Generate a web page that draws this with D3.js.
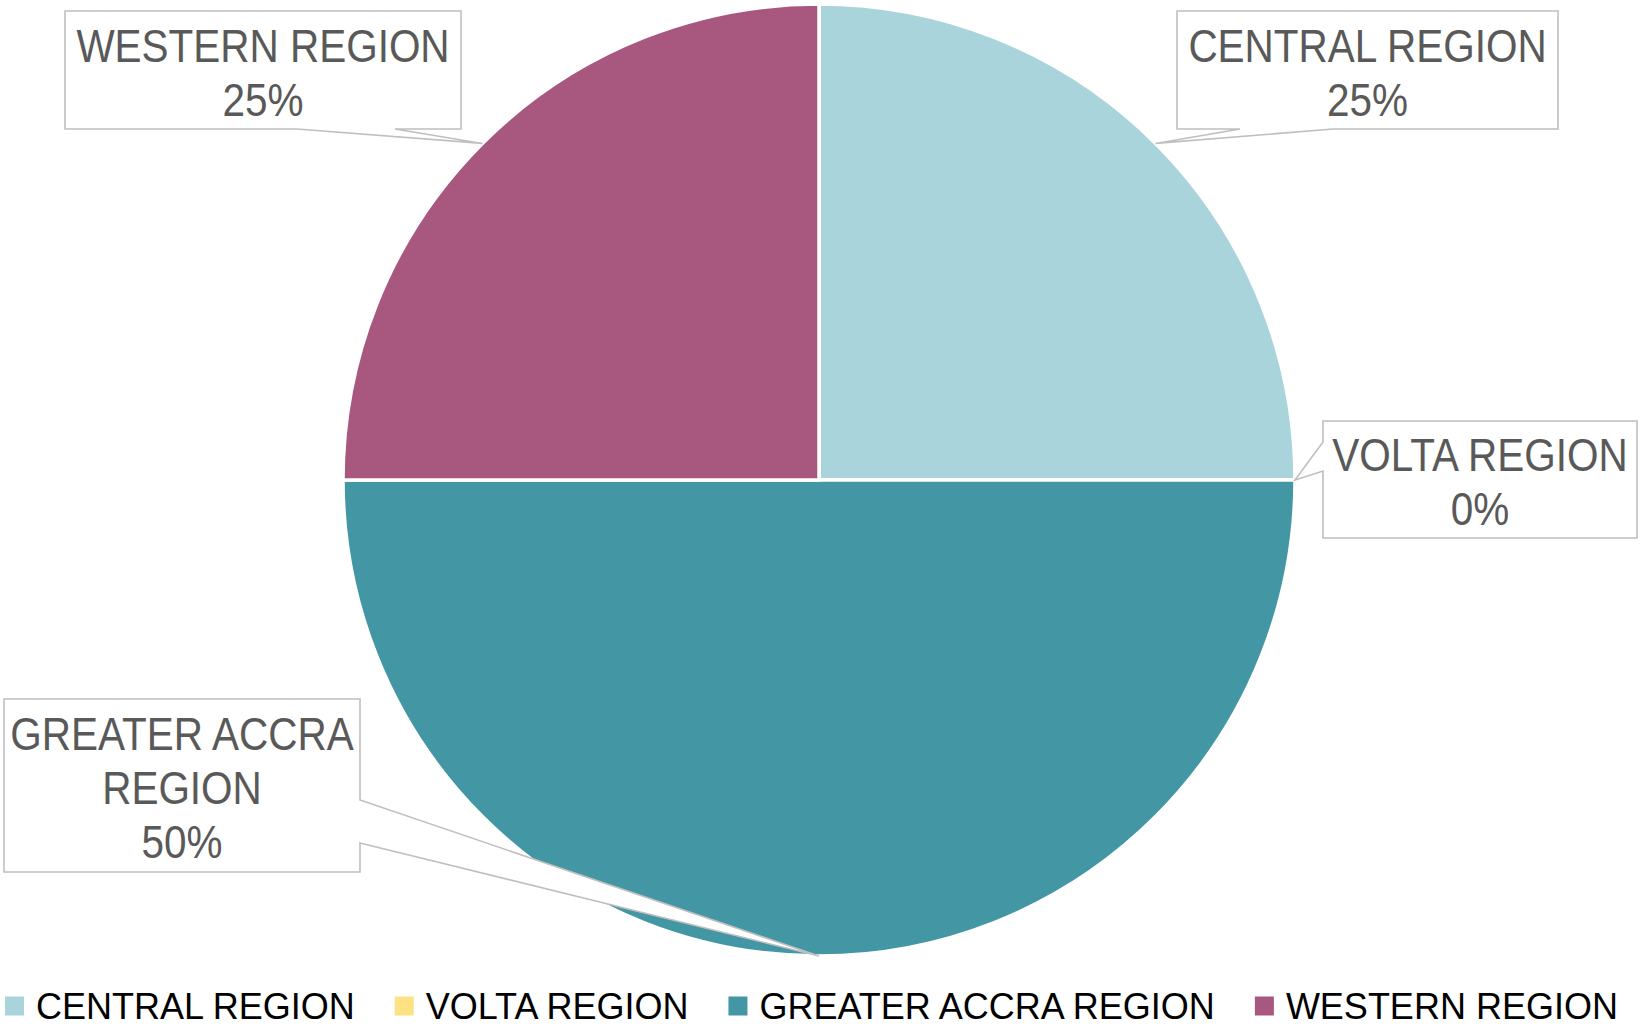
<!DOCTYPE html>
<html>
<head>
<meta charset="utf-8">
<script src="https://cdn.jsdelivr.net/npm/d3@7"></script>
<style>
  html, body { margin: 0; padding: 0; background: #ffffff; }
  svg { display: block; }
</style>
</head>
<body>
<svg id="chart" width="1640" height="1030"></svg>
<script>
// ---- data ----
const categories = ["CENTRAL REGION", "VOLTA REGION", "GREATER ACCRA REGION", "WESTERN REGION"];
const values = [25, 0, 50, 25];
const colors = ["#AAD4DB", "#FDE283", "#4396A3", "#A8577E"];
const labelLines = [["CENTRAL REGION"], ["VOLTA REGION"], ["GREATER ACCRA", "REGION"], ["WESTERN REGION"]];

// ---- layout (not data) ----
const W = 1640, H = 1030;
const cx = 819, cy = 480, R = 476;
// callout boxes: [x0, y0, x1, y1], wedge edge and two attachment coords on that edge
const callouts = [
  { box: [1177, 11, 1558, 129], edge: "bottom", a: 1240, b: 1333 },
  { box: [1323, 421, 1637, 538], edge: "left", a: 442, b: 471 },
  { box: [4, 699, 360, 872], edge: "right", a: 800, b: 843 },
  { box: [65, 11, 461, 129], edge: "bottom", a: 297, b: 395 }
];

const svg = d3.select("#chart");
const total = d3.sum(values);
const pct = d3.format(".0%");

const pie = d3.pie().sort(null).value(d => d).startAngle(0).endAngle(2 * Math.PI);
const arcs = pie(values);
const arc = d3.arc().innerRadius(0).outerRadius(R);

const g = svg.append("g").attr("transform", `translate(${cx},${cy})`);
g.selectAll("path.slice")
  .data(arcs)
  .join("path")
  .attr("class", "slice")
  .attr("d", arc)
  .attr("fill", (d, i) => colors[i])
  .attr("stroke", "#ffffff")
  .attr("stroke-width", 3.5)
  .attr("stroke-linejoin", "round");

// ---- callout labels ----
const labelG = svg.append("g");
arcs.forEach((d, i) => {
  const mid = (d.startAngle + d.endAngle) / 2;
  const tx = cx + R * Math.sin(mid);
  const ty = cy - R * Math.cos(mid);
  const c = callouts[i];
  const [x0, y0, x1, y1] = c.box;
  let p;
  if (c.edge === "bottom") {
    p = `M${x0},${y0}H${x1}V${y1}H${c.b}L${tx},${ty}L${c.a},${y1}H${x0}Z`;
  } else if (c.edge === "left") {
    p = `M${x0},${y0}H${x1}V${y1}H${x0}V${c.b}L${tx},${ty}L${x0},${c.a}Z`;
  } else {
    p = `M${x0},${y0}H${x1}V${c.a}L${tx},${ty}L${x1},${c.b}V${y1}H${x0}Z`;
  }
  labelG.append("path")
    .attr("d", p)
    .attr("fill", "#ffffff")
    .attr("stroke", "#BFBFBF")
    .attr("stroke-width", 1.6)
    .attr("stroke-linejoin", "miter");

  const lines = labelLines[i].concat([pct(values[i] / total)]);
  const bx = (x0 + x1) / 2, by = (y0 + y1) / 2;
  const lh = 54;
  lines.forEach((t, k) => {
    const yy = by + 18.5 + (k - (lines.length - 1) / 2) * lh;
    labelG.append("text")
      .attr("transform", `translate(${bx},${yy}) scale(0.88,1)`)
      .attr("text-anchor", "middle")
      .attr("font-family", "'Liberation Sans', Arial, sans-serif")
      .attr("font-size", 46)
      .attr("fill", "#595959")
      .text(t);
  });
});

// ---- legend ----
const legend = svg.append("g");
const sw = 19, gapSwatch = 12, gapItem = 40, fs = 36;
let xpos = 0;
categories.forEach((name, i) => {
  const it = legend.append("g");
  it.append("rect")
    .attr("x", 0).attr("y", -sw / 2)
    .attr("width", sw).attr("height", sw)
    .attr("fill", colors[i]);
  const t = it.append("text")
    .attr("x", sw + gapSwatch)
    .attr("y", 13)
    .attr("font-family", "'Liberation Sans', Arial, sans-serif")
    .attr("font-size", fs)
    .attr("fill", "#000000")
    .text(name);
  const w = t.node().getComputedTextLength();
  it.attr("transform", `translate(${xpos},0)`);
  xpos += sw + gapSwatch + w + gapItem;
});
legend.attr("transform", `translate(5,1006)`);
</script>
</body>
</html>
